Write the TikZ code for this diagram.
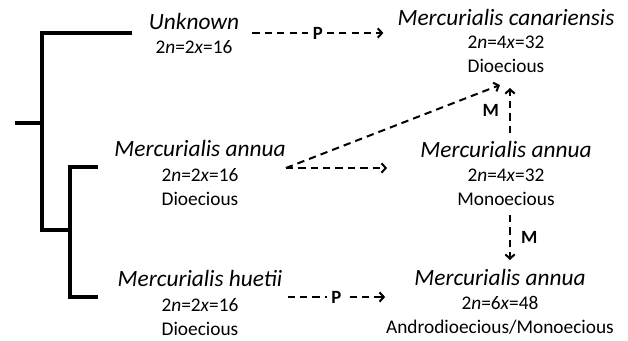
\documentclass[tikz,border=0pt]{standalone}
\usepackage{fontspec}
\setmainfont{Carlito}
\usetikzlibrary{arrows.meta,calc}

\begin{document}
\begin{tikzpicture}[x=0.75pt,y=-0.75pt,
  >={Straight Barb[length=3.2pt,width=7pt]},
  taxon/.style={font=\fontsize{17.5}{21}\selectfont\itshape, anchor=base, inner sep=0pt},
  info/.style={font=\fontsize{14.5}{17.6}\selectfont, align=center, anchor=base, inner sep=0pt},
  branch/.style={line width=2.6pt},
  evo/.style={->, line width=1.5pt, dash pattern=on 5.5pt off 3.8pt},
  mode/.style={font=\fontsize{14}{16}\selectfont\bfseries, fill=white, inner sep=3.5pt}]
  \useasboundingbox (0,0) rectangle (628,340);

  % tree
  \draw[branch] (15,123) -- (42,123);
  \draw[branch] (132,33) -- (42,33) -- (42,230) -- (70,230);
  \draw[branch] (98,167) -- (70,167) -- (70,297) -- (98,297);

  % left column (base of an info node = its last line)
  \node[taxon] (unk) at (194,29) {Unknown};
  \node[info] (unk-i) at ($(unk.base)+(0,24)$) {2\textit{n}=2\textit{x}=16};
  \node[taxon] (lann) at (200,156) {Mercurialis annua};
  \node[info] (lann-i) at ($(lann.base)+(0,49)$) {2\textit{n}=2\textit{x}=16\\Dioecious};
  \node[taxon] (huet) at (200,286) {Mercurialis huetii};
  \node[info] (huet-i) at ($(huet.base)+(0,49)$) {2\textit{n}=2\textit{x}=16\\Dioecious};

  % right column
  \node[taxon] (cana) at (506,25) {Mercurialis canariensis};
  \node[info] (cana-i) at ($(cana.base)+(0,47)$) {2\textit{n}=4\textit{x}=32\\Dioecious};
  \node[taxon] (rann) at (506,157) {Mercurialis annua};
  \node[info] (rann-i) at ($(rann.base)+(0,48)$) {2\textit{n}=4\textit{x}=32\\Monoecious};
  \node[taxon] (rbot) at (500,285) {Mercurialis annua};
  \node[info] (rbot-i) at ($(rbot.base)+(0,48)$) {2\textit{n}=6\textit{x}=48\\Androdioecious/Monoecious};

  % transitions
  \draw[evo] ($(unk.base east)+(13,4)$) -- node[mode]{P} ($(cana.base west)+(-14,8)$);
  \draw[evo] ($(lann.base east)+(0,12)$) -- ($(cana-i.base)+(-6,13)$);
  \draw[evo] ($(lann.base east)+(0,12)$) -- ($(rann.base west)+(-33,11)$);
  \draw[evo] ($(rann.base)+(4,-24)$) -- node[mode,fill=none,left=4pt]{M} ($(cana-i.base)+(4,16)$);
  \draw[evo] ($(rann-i.base)+(4,10)$) -- node[mode,fill=none,right=4pt]{M} ($(rbot.base)+(10,-25)$);
  \draw[evo] ($(huet.base east)+(5,11)$) -- node[mode]{P} ($(rbot.base west)+(-29,12)$);
\end{tikzpicture}
\end{document}
